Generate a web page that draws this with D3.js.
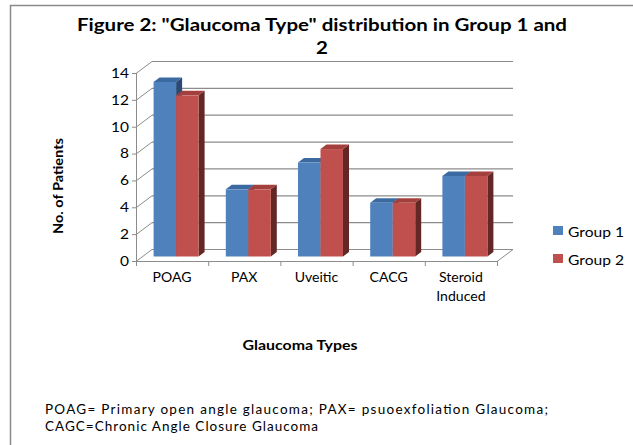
<!DOCTYPE html>
<html>
<head>
<meta charset="utf-8">
<script src="https://cdn.jsdelivr.net/npm/d3@7"></script>
<style>
  body { margin: 0; background: #ffffff; }
  svg text { font-family: Lato, "Open Sans", sans-serif; fill: #000; }
</style>
</head>
<body>
<script>
// Chart values.
const categories = ['POAG', 'PAX', 'Uveitic', 'CACG', 'Steroid Induced'];
const seriesNames = ['Group 1', 'Group 2'];
const group1 = [13, 5, 7, 4, 6];
const group2 = [12, 5, 8, 4, 6];
const yTicks = [0, 2, 4, 6, 8, 10, 12, 14];
const titleLines = ['Figure 2: "Glaucoma Type" distribution in Group 1 and', '2'];
const footnotes = [
  'POAG= Primary open angle glaucoma; PAX= psuoexfoliation Glaucoma;',
  'CAGC=Chronic Angle Closure Glaucoma'
];

const width = 633;
const height = 445;

// Colours: front, top, side.
const palette = [
  { front: '#4f81bd', top: '#3b6aa0', side: '#2a4a73' },
  { front: '#c0504d', top: '#a33f3c', side: '#632826' }
];

// 3D geometry.
const wallDx = 16, wallDy = -12;
const barOffX = 4, barOffY = -4.5;
const barDepthX = 6, barDepthY = -4.5;

// Stretch a text element horizontally by factor sx.
function stretch(sel, sx)
{
  sel.each(function ()
  {
    const w = this.getComputedTextLength();
    d3.select(this)
      .attr('textLength', w * sx)
      .attr('lengthAdjust', 'spacingAndGlyphs');
  });
}

// Factor needed so that a text reaches a given width.
function factorFor(sel, target)
{
  return target / sel.node().getComputedTextLength();
}

const svg = d3.select('body')
  .append('svg')
  .attr('width', width)
  .attr('height', height);

// Outer frame.
svg.append('rect')
  .attr('x', 10.5)
  .attr('y', 5.5)
  .attr('width', 700)
  .attr('height', 500)
  .attr('fill', 'none')
  .attr('stroke', '#8a8a8a')
  .attr('stroke-width', 1.5);

// Scales.
const xScale = d3.scaleBand()
  .domain(categories)
  .range([136, 497]);
const yScale = d3.scaleLinear()
  .domain([0, 14])
  .range([261, 73]);
const sub = d3.scaleBand()
  .domain(seriesNames)
  .range([0, 45]);

const gridColor = '#8c8c8c';

// Back wall gridlines.
svg.append('g')
  .selectAll('line')
  .data(yTicks)
  .enter()
  .append('line')
  .attr('x1', 136 + wallDx)
  .attr('x2', 497 + wallDx)
  .attr('y1', (d) => yScale(d) + wallDy + 0.5)
  .attr('y2', (d) => yScale(d) + wallDy + 0.5)
  .attr('stroke', gridColor)
  .attr('stroke-width', 1.2);

// Side wall diagonals.
svg.append('g')
  .selectAll('line')
  .data(yTicks)
  .enter()
  .append('line')
  .attr('x1', 136)
  .attr('x2', 136 + wallDx)
  .attr('y1', (d) => yScale(d) + 0.5)
  .attr('y2', (d) => yScale(d) + wallDy + 0.5)
  .attr('stroke', gridColor)
  .attr('stroke-width', 1);

// Floor right edge.
svg.append('line')
  .attr('x1', 497)
  .attr('y1', yScale(0) + 0.5)
  .attr('x2', 497 + wallDx)
  .attr('y2', yScale(0) + wallDy + 0.5)
  .attr('stroke', gridColor);

// Bars.
const barData = [];
categories.forEach((c, i) =>
{
  barData.push({ cat: c, name: seriesNames[0], value: group1[i], s: 0 });
  barData.push({ cat: c, name: seriesNames[1], value: group2[i], s: 1 });
});

const bars = svg.append('g')
  .selectAll('g')
  .data(barData)
  .enter()
  .append('g');

bars.each(function (d)
{
  const col = palette[d.s];
  const x0 = xScale(d.cat) + xScale.bandwidth() / 2 - 22.5 + barOffX + sub(d.name);
  const x1 = x0 + sub.bandwidth();
  const yb = yScale(0) + barOffY;
  const yt = yScale(d.value) + barOffY;
  const el = d3.select(this);
  // side
  el.append('path')
    .attr('d', d3.line()([[x1, yt], [x1 + barDepthX, yt + barDepthY], [x1 + barDepthX, yb + barDepthY], [x1, yb]]))
    .attr('fill', col.side);
  // top
  el.append('path')
    .attr('d', d3.line()([[x0, yt], [x0 + barDepthX, yt + barDepthY], [x1 + barDepthX, yt + barDepthY], [x1, yt]]))
    .attr('fill', col.top);
  // front
  el.append('rect')
    .attr('x', x0)
    .attr('y', yt)
    .attr('width', sub.bandwidth())
    .attr('height', yb - yt)
    .attr('fill', col.front);
});

// Front axes.
svg.append('line')
  .attr('x1', 136.5).attr('x2', 136.5)
  .attr('y1', yScale(14)).attr('y2', yScale(0) + 0.5)
  .attr('stroke', gridColor);
svg.append('line')
  .attr('x1', 136).attr('x2', 497)
  .attr('y1', yScale(0) + 0.5).attr('y2', yScale(0) + 0.5)
  .attr('stroke', gridColor);

// Y ticks + labels.
const yAxisG = svg.append('g');
yAxisG.selectAll('line')
  .data(yTicks)
  .enter()
  .append('line')
  .attr('x1', 132).attr('x2', 136)
  .attr('y1', (d) => yScale(d) + 0.5)
  .attr('y2', (d) => yScale(d) + 0.5)
  .attr('stroke', gridColor);
const yLabels = yAxisG.selectAll('text')
  .data(yTicks)
  .enter()
  .append('text')
  .attr('x', 129)
  .attr('y', (d) => yScale(d))
  .attr('dy', '0.36em')
  .attr('text-anchor', 'end')
  .style('font-size', '13.5px')
  .text((d) => d);
stretch(yLabels, factorFor(yLabels.filter((d) => d === 10), 18));

// X ticks.
const xTickPos = [136, 497].concat(categories.slice(1).map((c) => xScale(c)));
svg.append('g')
  .selectAll('line')
  .data(xTickPos)
  .enter()
  .append('line')
  .attr('x1', (d) => d + 0.5).attr('x2', (d) => d + 0.5)
  .attr('y1', yScale(0)).attr('y2', yScale(0) + 5)
  .attr('stroke', gridColor);

// Category labels.
const catG = svg.append('g');
categories.forEach((d) =>
{
  d.split(' ').forEach((p, i) =>
  {
    catG.append('text')
      .attr('x', xScale(d) + xScale.bandwidth() / 2)
      .attr('y', 282 + i * 19)
      .attr('text-anchor', 'middle')
      .style('font-size', '13.5px')
      .text(p);
  });
});
const catTexts = catG.selectAll('text');
stretch(catTexts, factorFor(catTexts.filter(function () { return this.textContent === 'POAG'; }), 39));

// Title.
const titleG = svg.append('g');
titleLines.forEach((t, i) =>
{
  titleG.append('text')
    .attr('x', 322)
    .attr('y', 31 + i * 23)
    .attr('text-anchor', 'middle')
    .style('font-size', '16.5px')
    .style('font-weight', 'bold')
    .text(t);
});
const titleTexts = titleG.selectAll('text');
stretch(titleTexts, factorFor(titleTexts.filter((d, i) => i === 0), 490));

// Axis titles.
const xTitle = svg.append('text')
  .attr('x', 300)
  .attr('y', 350)
  .attr('text-anchor', 'middle')
  .style('font-size', '14px')
  .style('font-weight', 'bold')
  .text('Glaucoma Types');
stretch(xTitle, factorFor(xTitle, 115));

const yTitle = svg.append('text')
  .attr('transform', 'translate(63, 186) rotate(-90)')
  .attr('text-anchor', 'middle')
  .style('font-size', '14px')
  .style('font-weight', 'bold')
  .text('No. of Patients');
stretch(yTitle, factorFor(yTitle, 96));

// Legend.
const legend = svg.append('g');
seriesNames.forEach((n, i) =>
{
  legend.append('rect')
    .attr('x', 553)
    .attr('y', 226 + i * 28)
    .attr('width', 10)
    .attr('height', 9)
    .attr('fill', palette[i].front);
  legend.append('text')
    .attr('x', 568)
    .attr('y', 236.5 + i * 28)
    .style('font-size', '14px')
    .text(n);
});
const legTexts = legend.selectAll('text');
stretch(legTexts, factorFor(legTexts.filter((d, i) => i === 0), 56));

// Footnote.
svg.append('g')
  .selectAll('text')
  .data(footnotes)
  .enter()
  .append('text')
  .attr('x', 45)
  .attr('y', (d, i) => 414 + i * 17)
  .attr('textLength', (d, i) => i === 0 ? 503 : 273)
  .attr('lengthAdjust', 'spacing')
  .style('font-size', '13.5px')
  .text((d) => d);
</script>
</body>
</html>
